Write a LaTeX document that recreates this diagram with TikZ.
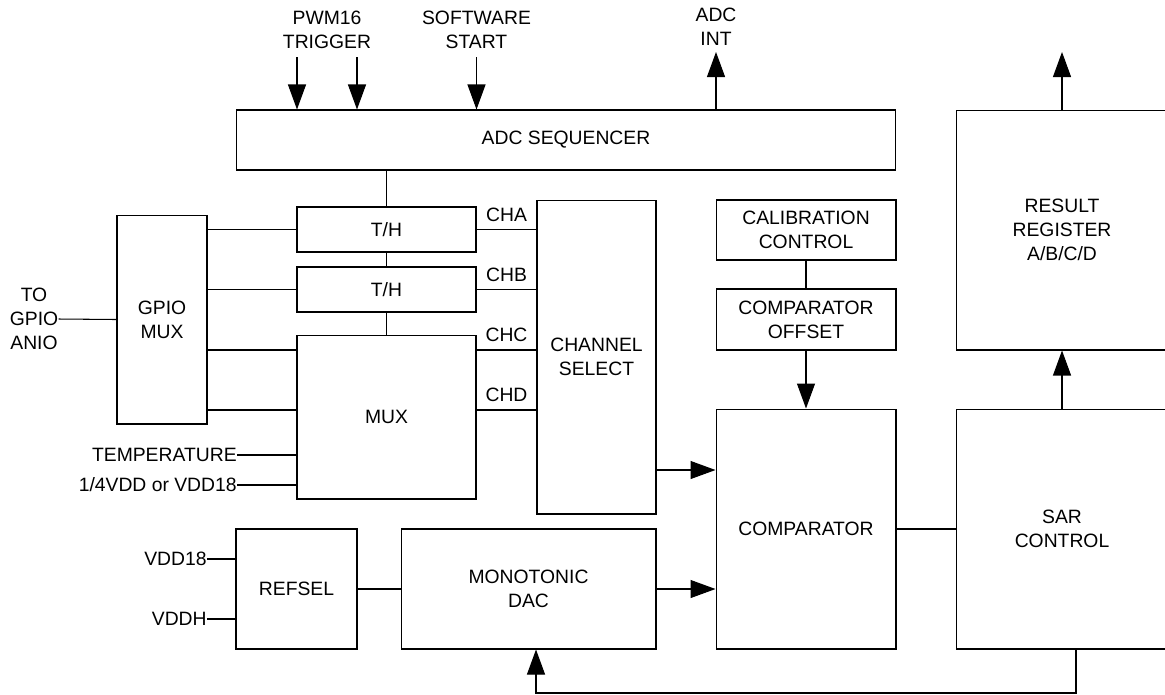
\documentclass[tikz,border=0pt]{standalone}
\usepackage{fontspec}
\setmainfont{Liberation Sans}
\usetikzlibrary{arrows.meta,positioning,calc}

\begin{document}
\begin{tikzpicture}[x=0.02cm, y=-0.02cm,
  every node/.style={font=\fontsize{11}{13.6}\selectfont, align=center},
  blk/.style={draw, line width=0.6pt, inner sep=0pt},
  lbl/.style={inner sep=0pt},
  wire/.style={line width=0.6pt},
  sig/.style={wire, -{Triangle[length=0.5cm, width=0.36cm]}}]
  \useasboundingbox (0,0) rectangle (1165,694);
  \clip (0,0) rectangle (1165,694);
  % blocks
  \node[blk, minimum width=13.2cm, minimum height=1.2cm] (seq) at (566,140) {ADC SEQUENCER};
  \node[blk, minimum width=1.8cm, minimum height=4.18cm] (gpio) at (162,319.5) {GPIO\\MUX};
  \node[blk, minimum width=3.58cm, minimum height=0.9cm] (th1) at (386.5,229.5) {T/H};
  \node[blk, minimum width=3.58cm, minimum height=0.9cm] (th2) at (386.5,289.5) {T/H};
  \node[blk, minimum width=3.58cm, minimum height=3.28cm] (mux) at (386.5,417) {MUX};
  \node[blk, minimum width=2.38cm, minimum height=6.28cm] (chsel) at (596.5,357) {CHANNEL\\SELECT};
  \node[blk, minimum width=3.6cm, minimum height=1.2cm] (calib) at (806,230) {CALIBRATION\\CONTROL};
  \node[blk, minimum width=3.6cm, minimum height=1.22cm] (offset) at (806,319.5) {COMPARATOR\\OFFSET};
  \node[blk, minimum width=3.6cm, minimum height=4.8cm] (comp) at (806,529) {COMPARATOR};
  \node[blk, minimum width=4.24cm, minimum height=4.8cm] (result) at (1062,230) {RESULT\\REGISTER\\A/B/C/D};
  \node[blk, minimum width=4.24cm, minimum height=4.8cm] (sar) at (1062,529) {SAR\\CONTROL};
  \node[blk, minimum width=2.42cm, minimum height=2.4cm] (refsel) at (296.5,589) {REFSEL};
  \node[blk, minimum width=5.1cm, minimum height=2.4cm] (dac) at (528.5,589) {MONOTONIC\\DAC};
  % outside labels
  \node[lbl] (pwm) at (327,30) {PWM16\\TRIGGER};
  \node[lbl] (swstart) at (476.5,30) {SOFTWARE\\START};
  \node[lbl] (adcint) at (716,27) {ADC\\INT};
  \node[lbl] (anio) at (34,319) {TO\\GPIO\\ANIO};
  \node[lbl, anchor=east] (temp) at (237,455) {TEMPERATURE};
  \node[lbl, anchor=east] (vref) at (237,485) {1/4VDD or VDD18};
  \node[lbl, anchor=east] (vdd18) at (207,559) {VDD18};
  \node[lbl, anchor=east] (vddh) at (207,619) {VDDH};
  \coordinate (pwma) at (297,57);
  \coordinate (pwmb) at (357,57);
  \coordinate (swin) at (476.5,57);
  \coordinate (intout) at (716,52);
  \coordinate (resout) at (1062,52);
  \coordinate (rowc) at (0,350);
  \coordinate (rowd) at (0,410);
  \coordinate (rowin) at (0,470);
  \coordinate (fbr) at (1076,693);
  \coordinate (fbl) at (536,693);
  % control and outputs
  \draw[sig] (pwma) -- (pwma |- seq.north);
  \draw[sig] (pwmb) -- (pwmb |- seq.north);
  \draw[sig] (swin) -- (swin |- seq.north);
  \draw[sig] (intout |- seq.north) -- (intout);
  \draw[sig] (result.north) -- (resout);
  \draw[wire] (th1.north |- seq.south) -- (th1.north);
  \draw[wire] (th1.south) -- (th2.north);
  \draw[wire] (th2.south) -- (mux.north);
  % analog inputs
  \draw[wire] (anio.east) -- (gpio.west);
  \draw[wire] (gpio.east |- th1) -- (th1.west);
  \draw[wire] (gpio.east |- th2) -- (th2.west);
  \draw[wire] (gpio.east |- rowc) -- (mux.west |- rowc);
  \draw[wire] (gpio.east |- rowd) -- (mux.west |- rowd);
  \draw[wire] (temp.east) -- (temp.east -| mux.west);
  \draw[wire] (vref.east) -- (vref.east -| mux.west);
  % channels
  \draw[wire] (th1.east) -- (th1.east -| chsel.west) node[midway, above=1pt] {CHA};
  \draw[wire] (th2.east) -- (th2.east -| chsel.west) node[midway, above=1pt] {CHB};
  \draw[wire] (mux.east |- rowc) -- (chsel.west |- rowc) node[midway, above=1pt] {CHC};
  \draw[wire] (mux.east |- rowd) -- (chsel.west |- rowd) node[midway, above=1pt] {CHD};
  % reference and dac
  \draw[wire] (vdd18.east) -- (vdd18.east -| refsel.west);
  \draw[wire] (vddh.east) -- (vddh.east -| refsel.west);
  \draw[wire] (refsel.east) -- (dac.west);
  % comparator path
  \draw[sig] (chsel.east |- rowin) -- (comp.west |- rowin);
  \draw[sig] (dac.east) -- (dac.east -| comp.west);
  \draw[wire] (calib.south) -- (offset.north);
  \draw[sig] (offset.south) -- (comp.north);
  \draw[wire] (comp.east) -- (sar.west);
  \draw[sig] (sar.north) -- (result.south);
  \draw[sig] (sar.south -| fbr) -- (fbr) -- (fbl) -- (fbl |- dac.south);
\end{tikzpicture}
\end{document}
